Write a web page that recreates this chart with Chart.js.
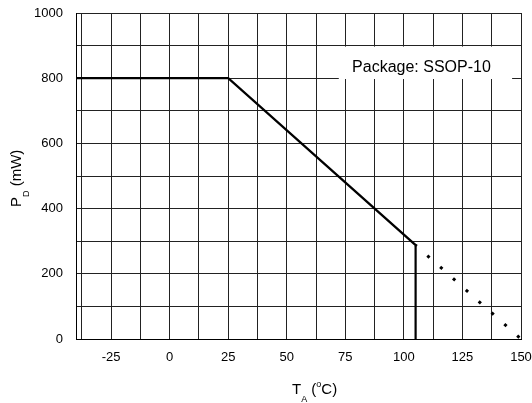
<!DOCTYPE html>
<html>
<head>
<meta charset="UTF-8">
<title>Power derating</title>
<script src="https://cdn.jsdelivr.net/npm/chart.js@4.4.1/dist/chart.umd.min.js"></script>
<style>
  body { margin: 0; background: #fff; }
  .chartBox { width: 532px; height: 403px; }
</style>
</head>
<body>
<div class="chartBox"><canvas id="myChart"></canvas></div>
<script>
// derating curve
const tempSolid = [-40, 25, 105, 105];
const powerSolid = [800, 800, 288, 0];
const tempDotted = [105, 150];
const powerDotted = [288, 0];

const xGrid = [-40, -37.5, -25, -12.5, 0, 12.5, 25, 37.5, 50, 62.5, 75, 87.5, 100, 112.5, 125, 137.5, 150];
const xTickLabels = [-25, 0, 25, 50, 75, 100, 125, 150];
const yTickLabels = [0, 200, 400, 600, 800, 1000];
const packageLabel = 'Package: SSOP-10';

const FONT = '"Liberation Sans", Arial, sans-serif';

// draws text with sub/superscript parts
function drawRich(ctx, parts, x, y) {
  let cx = x;
  parts.forEach(p => {
    ctx.font = p.size + 'px ' + FONT;
    ctx.fillText(p.t, cx, y + (p.dy || 0));
    cx += ctx.measureText(p.t).width;
  });
}

const decorations = {
  id: 'decorations',
  beforeDatasetsDraw(chart) {
    const {ctx, scales: {x, y}} = chart;
    const left = x.getPixelForValue(72.2);
    const right = x.getPixelForValue(146.2);
    const top = y.getPixelForValue(900) + 1;
    const bottom = y.getPixelForValue(800) + 0.8;
    ctx.save();
    ctx.fillStyle = '#fff';
    ctx.fillRect(left, top, right - left, bottom - top);
    ctx.fillStyle = '#000';
    ctx.font = '16px ' + FONT;
    ctx.textAlign = 'center';
    ctx.textBaseline = 'alphabetic';
    ctx.fillText(packageLabel, (left + right) / 2 - 4, bottom - 7);
    ctx.restore();
  },
  afterDraw(chart) {
    const {ctx, chartArea} = chart;
    ctx.save();
    ctx.fillStyle = '#000';
    ctx.textBaseline = 'alphabetic';
    ctx.textAlign = 'left';
    drawRich(ctx, [
      {t: 'T', size: 15},
      {t: 'A', size: 9, dy: 8},
      {t: ' (', size: 15},
      {t: 'o', size: 9, dy: -7},
      {t: 'C)', size: 15}
    ], 292, chartArea.bottom + 55);

    ctx.translate(21, (chartArea.top + chartArea.bottom) / 2 + 31);
    ctx.rotate(-Math.PI / 2);
    drawRich(ctx, [
      {t: 'P', size: 15},
      {t: 'D', size: 9, dy: 8},
      {t: ' (mW)', size: 15}
    ], 0, 0);
    ctx.restore();
  }
};

const ctx = document.getElementById('myChart').getContext('2d');
const myChart = new Chart(ctx, {
  type: 'line',
  data: {
    datasets: [{
      data: tempSolid.map((t, i) => ({x: t, y: powerSolid[i]})),
      borderColor: '#000',
      borderWidth: 2.2,
      pointRadius: 0,
      tension: 0
    }, {
      data: tempDotted.map((t, i) => ({x: t, y: powerDotted[i]})),
      borderColor: '#000',
      borderWidth: 3,
      borderDash: [3, 14.19],
      borderDashOffset: 1.5,
      pointRadius: 0,
      tension: 0
    }]
  },
  options: {
    responsive: true,
    maintainAspectRatio: false,
    animation: false,
    layout: {
      padding: {top: 13, right: 11, left: 0, bottom: 0}
    },
    scales: {
      x: {
        type: 'linear',
        min: -40,
        max: 150,
        afterBuildTicks: (scale) => {
          scale.ticks = xGrid.map(v => ({value: v}));
        },
        afterFit: (scale) => {
          scale.height = 64;
          scale.paddingLeft = 0;
          scale.paddingRight = 0;
        },
        grid: {color: '#222', lineWidth: 1, drawTicks: false},
        border: {color: '#000', width: 1},
        ticks: {
          autoSkip: false,
          maxRotation: 0,
          padding: 11,
          color: '#000',
          font: {family: FONT, size: 13},
          callback: (v) => xTickLabels.includes(v) ? String(v) : ''
        }
      },
      y: {
        min: 0,
        max: 1000,
        afterFit: (scale) => {
          scale.width = 76;
          scale.paddingTop = 0;
          scale.paddingBottom = 0;
        },
        grid: {color: '#222', lineWidth: 1, drawTicks: false},
        border: {color: '#000', width: 1},
        ticks: {
          stepSize: 100,
          autoSkip: false,
          padding: 13,
          color: '#000',
          font: {family: FONT, size: 13},
          callback: (v) => yTickLabels.includes(v) ? String(v) : ''
        }
      }
    },
    plugins: {
      legend: {display: false},
      tooltip: {enabled: false}
    }
  },
  plugins: [decorations]
});
</script>
</body>
</html>
